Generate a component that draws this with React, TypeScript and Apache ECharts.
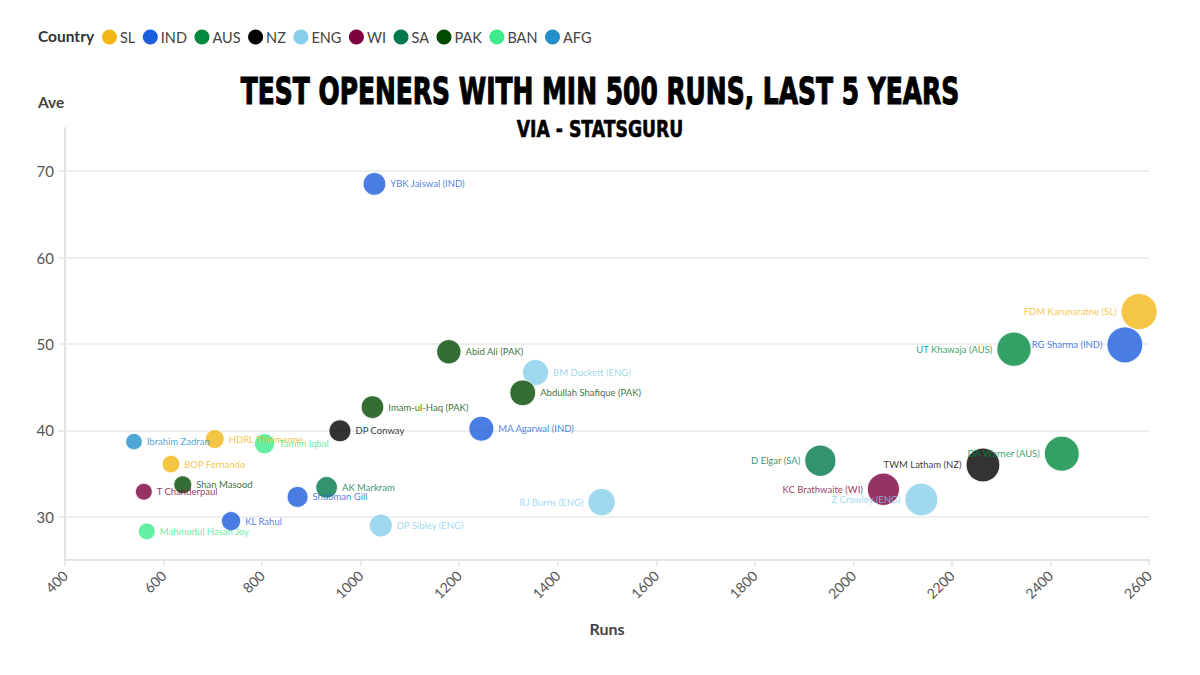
import React, { useEffect, useRef } from "react";
import * as echarts from "echarts";

const countries = ["SL", "IND", "AUS", "NZ", "ENG", "WI", "SA", "PAK", "BAN", "AFG"];
const countryColors = ["#f2b616", "#1b5ddd", "#008a3e", "#000000", "#87ceeb", "#7a003e", "#00784b", "#014a01", "#3deb8c", "#2390c9"];

const players = [
  "YBK Jaiswal (IND)", "FDM Karunaratne (SL)", "RG Sharma (IND)", "UT Khawaja (AUS)", "DA Warner (AUS)",
  "TWM Latham (NZ)", "D Elgar (SA)", "KC Brathwaite (WI)", "Z Crawley (ENG)", "RJ Burns (ENG)",
  "BM Duckett (ENG)", "Abdullah Shafique (PAK)", "Abid Ali (PAK)", "MA Agarwal (IND)", "Imam-ul-Haq (PAK)",
  "DP Conway", "Tamim Iqbal", "HDRL Thirimanne", "Ibrahim Zadran", "BOP Fernando",
  "Shan Masood", "T Chanderpaul", "AK Markram", "Shubman Gill", "KL Rahul",
  "Mahmudul Hasan Joy", "DP Sibley (ENG)",
];
const playerCountry = [
  "IND", "SL", "IND", "AUS", "AUS",
  "NZ", "SA", "WI", "ENG", "ENG",
  "ENG", "PAK", "PAK", "IND", "PAK",
  "NZ", "BAN", "SL", "AFG", "SL",
  "PAK", "WI", "SA", "IND", "IND",
  "BAN", "ENG",
];
const runs = [
  1028, 2580, 2551, 2326, 2423,
  2263, 1933, 2061, 2138, 1489,
  1355, 1329, 1179, 1245, 1024,
  958, 805, 704, 540, 615,
  639, 560, 931, 872, 737,
  566, 1041,
];
const averages = [
  68.53, 53.75, 49.9, 49.4, 37.3,
  36.0, 36.5, 33.2, 32.0, 31.7,
  46.7, 44.35, 49.1, 40.2, 42.7,
  39.95, 38.45, 39.0, 38.7, 36.1,
  33.7, 32.9, 33.4, 32.3, 29.5,
  28.3, 29.0,
];
const leftLabelled = [
  "FDM Karunaratne (SL)", "RG Sharma (IND)", "UT Khawaja (AUS)", "DA Warner (AUS)", "TWM Latham (NZ)",
  "D Elgar (SA)", "KC Brathwaite (WI)", "Z Crawley (ENG)", "RJ Burns (ENG)",
];
const yTickValues = [30, 40, 50, 60, 70];

const FONT = "Lato, 'Source Sans Pro', 'Noto Sans', sans-serif";
const DISPLAY_FONT = "'DejaVu Sans', sans-serif";

export default function App() {
  const ref = useRef<HTMLDivElement>(null);
  useEffect(() => {
    if (!ref.current) return;
    const chart = echarts.init(ref.current, null, { renderer: "svg" });
    const series = countries.map((c, ci) => ({
      name: c,
      type: "scatter",
      symbol: "circle",
      symbolSize: (v: number[]) => 0.709 * Math.sqrt(v[0]),
      itemStyle: { color: countryColors[ci], opacity: 0.8, borderColor: "#ffffff", borderWidth: 1 },
      label: {
        show: true,
        formatter: "{b}",
        color: countryColors[ci],
        fontFamily: FONT,
        fontSize: 9.5,
        distance: 4,
      },
      emphasis: { disabled: true },
      data: players
        .map((p, i) => ({ p, i }))
        .filter(({ i }) => playerCountry[i] === c)
        .map(({ p, i }) => ({
          name: p,
          value: [runs[i], averages[i]],
          label: { position: leftLabelled.includes(p) ? "left" : "right" },
        })),
    }));

    chart.setOption({
      animation: false,
      backgroundColor: "#ffffff",
      textStyle: { fontFamily: FONT },
      grid: { left: 65, right: 51, top: 128, bottom: 115, containLabel: false },
      legend: {
        left: 102,
        top: 29.5,
        padding: 0,
        icon: "circle",
        itemWidth: 15,
        itemHeight: 15,
        itemGap: 7.5,
        selectedMode: false,
        data: countries,
        itemStyle: { opacity: 1, borderWidth: 0 },
        textStyle: { color: "#444444", fontSize: 14.5, fontFamily: FONT, padding: [0, 0, 0, -2] },
      },
      graphic: [
        {
          type: "text",
          left: 38,
          top: 28,
          style: { text: "Country", fontFamily: FONT, fontSize: 15.5, fontWeight: "bold", fill: "#333333" },
        },
        {
          type: "text",
          left: 38,
          top: 94,
          style: { text: "Ave", fontFamily: FONT, fontSize: 15.5, fontWeight: "bold", fill: "#444444" },
        },
        {
          type: "text",
          x: 600,
          y: 91,
          scaleX: 0.674,
          style: {
            text: "TEST OPENERS WITH MIN 500 RUNS, LAST 5 YEARS",
            fontFamily: DISPLAY_FONT,
            fontSize: 37,
            fontWeight: "bold",
            fill: "#000000",
            stroke: "#000000",
            lineWidth: 1.2,
            align: "center",
            verticalAlign: "middle",
          },
        },
        {
          type: "text",
          x: 600,
          y: 129,
          scaleX: 0.75,
          style: {
            text: "VIA - STATSGURU",
            fontFamily: DISPLAY_FONT,
            fontSize: 23,
            fontWeight: "bold",
            fill: "#000000",
            stroke: "#000000",
            lineWidth: 0.6,
            align: "center",
            verticalAlign: "middle",
          },
        },
      ],
      xAxis: {
        type: "value",
        min: 400,
        max: 2600,
        interval: 200,
        name: "Runs",
        nameLocation: "middle",
        nameGap: 60,
        nameTextStyle: { fontFamily: FONT, fontSize: 16, fontWeight: "bold", color: "#444444" },
        axisLine: { show: true, lineStyle: { color: "#e3e3e3", width: 2 } },
        axisTick: { show: true, length: 6, lineStyle: { color: "#e3e3e3", width: 1.5 } },
        axisLabel: {
          rotate: 45,
          color: "#555555",
          fontSize: 14,
          fontFamily: FONT,
          margin: 13,
          formatter: (v: number) => String(v),
        },
        splitLine: { show: false },
      },
      yAxis: {
        type: "value",
        min: 25,
        max: 75,
        interval: 5,
        axisLine: { show: true, lineStyle: { color: "#e3e3e3", width: 2 } },
        axisTick: { show: true, length: 7, customValues: yTickValues, lineStyle: { color: "#e6e6e6", width: 1.5 } },
        axisLabel: { customValues: yTickValues, color: "#555555", fontSize: 15, fontFamily: FONT, margin: 11 },
        splitLine: { show: true, lineStyle: { color: "#e8e8e8", width: 1.5 } },
      },
      series,
    });
    return () => chart.dispose();
  }, []);
  return (
    <div
      ref={ref}
      style={{ position: "fixed", left: 0, top: 0, width: 1200, height: 675, background: "#fff" }}
    />
  );
}
